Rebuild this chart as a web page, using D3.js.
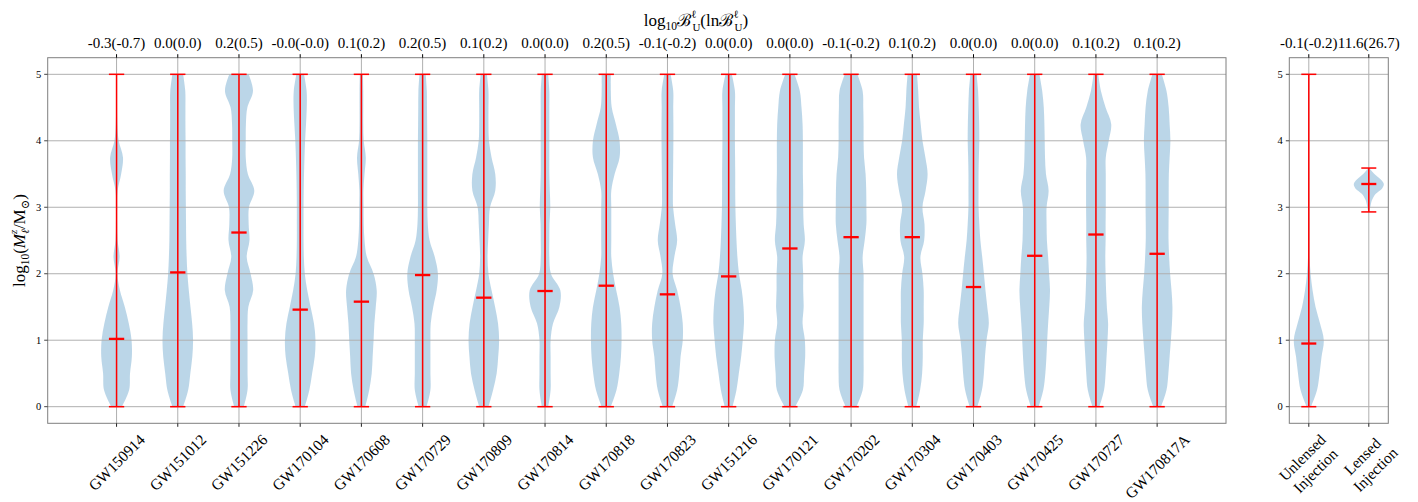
<!DOCTYPE html>
<html>
<head>
<meta charset="utf-8">
<script src="https://cdn.jsdelivr.net/npm/d3@7"></script>
<style>
  body { margin: 0; background: #fff; }
  text { font-family: "Liberation Serif", "DejaVu Serif", serif; fill: #000; }
</style>
</head>
<body>
<svg></svg>
<script>
// events (main panel) and the Bayes factor labels on top
var events = ["GW150914", "GW151012", "GW151226", "GW170104", "GW170608", "GW170729", "GW170809", "GW170814", "GW170818",
    "GW170823", "GW151216", "GW170121", "GW170202", "GW170304", "GW170403", "GW170425", "GW170727", "GW170817A"];
var bayesLabels = ["-0.3(-0.7)", "0.0(0.0)", "0.2(0.5)", "-0.0(-0.0)", "0.1(0.2)", "0.2(0.5)", "0.1(0.2)", "0.0(0.0)", "0.2(0.5)",
    "-0.1(-0.2)", "0.0(0.0)", "0.0(0.0)", "-0.1(-0.2)", "0.1(0.2)", "0.0(0.0)", "0.0(0.0)", "0.1(0.2)", "0.1(0.2)"];
var medians = [1.02, 2.02, 2.62, 1.46, 1.58, 1.98, 1.64, 1.74, 1.82, 1.69, 1.96, 2.38, 2.55, 2.55, 1.80, 2.27, 2.59, 2.30];
var mins = [0, 0, 0, 0, 0, 0, 0, 0, 0, 0, 0, 0, 0, 0, 0, 0, 0, 0];
var maxs = [5, 5, 5, 5, 5, 5, 5, 5, 5, 5, 5, 5, 5, 5, 5, 5, 5, 5];

// sample heights of the violin outlines, log10(M) values
var levels = [0, 0.25, 0.5, 0.75, 1, 1.25, 1.5, 1.75, 2, 2.25, 2.5, 2.75, 3, 3.25, 3.5, 3.75, 4, 4.25, 4.5, 4.75, 5];

// relative violin widths read at each level
var shapes = [
    [0.35, 0.82, 0.88, 1.0, 0.98, 0.8, 0.54, 0.22, 0.06, 0.2, 0.07, 0.04, 0.04, 0.07, 0.3, 0.42, 0.14, 0.05, 0.03, 0.02, 0.02],
    [0.35, 0.68, 0.82, 0.95, 1.0, 0.94, 0.83, 0.72, 0.63, 0.58, 0.55, 0.54, 0.53, 0.52, 0.52, 0.51, 0.51, 0.5, 0.5, 0.49, 0.35],
    [0.3, 0.53, 0.53, 0.53, 0.53, 0.53, 0.58, 0.88, 0.72, 0.48, 0.65, 0.6, 0.62, 0.95, 0.55, 0.42, 0.42, 0.43, 0.52, 0.87, 0.6],
    [0.3, 0.6, 0.78, 0.95, 1.0, 0.9, 0.68, 0.46, 0.3, 0.24, 0.22, 0.22, 0.22, 0.23, 0.25, 0.28, 0.32, 0.38, 0.43, 0.42, 0.25],
    [0.25, 0.5, 0.66, 0.72, 0.78, 0.83, 0.92, 0.98, 0.78, 0.35, 0.2, 0.15, 0.14, 0.13, 0.2, 0.28, 0.15, 0.12, 0.12, 0.12, 0.1],
    [0.25, 0.5, 0.5, 0.5, 0.5, 0.52, 0.68, 0.9, 0.98, 0.78, 0.45, 0.33, 0.3, 0.3, 0.3, 0.3, 0.3, 0.29, 0.28, 0.27, 0.2],
    [0.3, 0.6, 0.83, 0.93, 0.99, 0.92, 0.73, 0.5, 0.3, 0.24, 0.28, 0.33, 0.4, 0.74, 0.74, 0.5, 0.33, 0.3, 0.3, 0.3, 0.2],
    [0.2, 0.35, 0.35, 0.35, 0.35, 0.5, 0.9, 0.96, 0.37, 0.27, 0.27, 0.28, 0.33, 0.3, 0.27, 0.27, 0.27, 0.27, 0.27, 0.27, 0.2],
    [0.3, 0.67, 0.85, 0.96, 1.0, 0.98, 0.87, 0.65, 0.45, 0.33, 0.33, 0.33, 0.33, 0.33, 0.55, 0.87, 0.87, 0.63, 0.36, 0.3, 0.3],
    [0.3, 0.62, 0.76, 0.84, 0.98, 0.98, 0.84, 0.62, 0.33, 0.44, 0.62, 0.49, 0.36, 0.35, 0.36, 0.37, 0.38, 0.38, 0.37, 0.37, 0.2],
    [0.25, 0.5, 0.65, 0.8, 0.9, 0.98, 0.95, 0.84, 0.66, 0.56, 0.5, 0.46, 0.43, 0.42, 0.42, 0.41, 0.4, 0.4, 0.4, 0.4, 0.2],
    [0.35, 0.85, 0.93, 1.0, 0.98, 0.83, 0.9, 0.87, 0.87, 0.83, 0.98, 0.9, 0.87, 0.87, 0.85, 0.85, 0.85, 0.83, 0.76, 0.65, 0.3],
    [0.35, 0.74, 0.8, 0.8, 0.8, 0.8, 0.8, 0.8, 0.8, 0.74, 0.87, 0.98, 0.98, 0.97, 0.93, 0.83, 0.8, 0.8, 0.78, 0.74, 0.4],
    [0.25, 0.5, 0.63, 0.67, 0.67, 0.73, 0.73, 0.73, 0.65, 0.52, 0.76, 0.78, 0.65, 0.85, 0.98, 0.84, 0.65, 0.54, 0.43, 0.38, 0.3],
    [0.25, 0.55, 0.68, 0.75, 0.85, 1.0, 0.9, 0.78, 0.68, 0.57, 0.45, 0.38, 0.33, 0.33, 0.33, 0.35, 0.38, 0.37, 0.34, 0.3, 0.2],
    [0.25, 0.55, 0.68, 0.75, 0.8, 0.86, 0.93, 0.98, 0.92, 0.86, 0.78, 0.76, 0.76, 0.89, 0.72, 0.66, 0.64, 0.62, 0.58, 0.48, 0.3],
    [0.22, 0.52, 0.62, 0.68, 0.74, 0.78, 0.7, 0.65, 0.62, 0.6, 0.62, 0.62, 0.63, 0.63, 0.63, 0.63, 0.82, 0.98, 0.62, 0.32, 0.15],
    [0.25, 0.6, 0.72, 0.8, 0.88, 0.95, 0.98, 0.92, 0.83, 0.77, 0.73, 0.73, 0.74, 0.74, 0.75, 0.8, 0.85, 0.8, 0.74, 0.6, 0.3]
];

// injection panel
var injections = ["Unlensed\nInjection", "Lensed\nInjection"];
var injBayes = ["-0.1(-0.2)", "11.6(26.7)"];
var injMedians = [0.95, 3.35];
var injMins = [0, 2.93];
var injMaxs = [5, 3.59];
var lensedLevels = [2.93, 3.0, 3.1, 3.2, 3.28, 3.35, 3.42, 3.48, 3.53, 3.59];
var unlensedShape = [0.15, 0.55, 0.72, 0.85, 1.0, 0.75, 0.45, 0.25, 0.12, 0.05, 0.04, 0.04, 0.03, 0.02, 0.02, 0.01, 0.01, 0.01, 0.01, 0.01, 0.01];
var lensedShape = [0.02, 0.1, 0.2, 0.45, 0.88, 1.0, 0.78, 0.47, 0.25, 0.03];

var yTicks = [0, 1, 2, 3, 4, 5];

const svgWidth = 1418,
    svgHeight = 502;

var svg = d3.select('svg')
    .attr('width', svgWidth)
    .attr('height', svgHeight);

var y = d3.scaleLinear().domain([-0.25, 5.25]).range([423.3, 57.7]);
var xMain = d3.scaleLinear().domain([-0.125, 19.125]).range([47.7, 1226]);
var xInj = d3.scaleLinear().domain([0.675, 2.325]).range([1289.3, 1388.3]);

var gridColor = '#b0b0b0', spineColor = '#7f7f7f', red = '#ff0000';

function drawPanel(x, names, tops, shapeList, levelList, lo, hi, med) {
    var left = x.range()[0], right = x.range()[1];
    var top = y.range()[1], bottom = y.range()[0];
    var pos = names.map((d, i) => i + 1);
    var g = svg.append('g');

    // violin bodies
    pos.forEach((p, i) => {
        var lv = levelList[i];
        var k = 0.25 / d3.max(shapeList[i]);
        var area = d3.area()
            .curve(d3.curveCatmullRom.alpha(0.5))
            .y((d, j) => y(lv[j]))
            .x0(d => x(p - d * k))
            .x1(d => x(p + d * k));
        g.append('path')
            .datum(shapeList[i])
            .attr('d', area)
            .attr('fill', '#1f77b4')
            .attr('fill-opacity', 0.3);
    });

    // grid
    g.selectAll('.hgrid').data(yTicks).enter().append('line')
        .attr('x1', left).attr('x2', right)
        .attr('y1', d => y(d)).attr('y2', d => y(d))
        .attr('stroke', gridColor).attr('stroke-width', 1);
    g.selectAll('.vgrid').data(pos).enter().append('line')
        .attr('x1', d => x(d)).attr('x2', d => x(d))
        .attr('y1', top).attr('y2', bottom)
        .attr('stroke', gridColor).attr('stroke-width', 1);

    // extrema bars, caps and medians
    pos.forEach((p, i) => {
        g.append('line')
            .attr('x1', x(p)).attr('x2', x(p))
            .attr('y1', y(lo[i])).attr('y2', y(hi[i]))
            .attr('stroke', red).attr('stroke-width', 1.5);
        [lo[i], hi[i]].forEach(v => {
            g.append('line')
                .attr('x1', x(p - 0.125)).attr('x2', x(p + 0.125))
                .attr('y1', y(v)).attr('y2', y(v))
                .attr('stroke', red).attr('stroke-width', 1.5);
        });
        g.append('line')
            .attr('x1', x(p - 0.125)).attr('x2', x(p + 0.125))
            .attr('y1', y(med[i])).attr('y2', y(med[i]))
            .attr('stroke', red).attr('stroke-width', 2.3);
    });

    // frame
    g.append('rect')
        .attr('x', left).attr('y', top)
        .attr('width', right - left).attr('height', bottom - top)
        .attr('fill', 'none').attr('stroke', spineColor).attr('stroke-width', 1);

    // y ticks
    g.selectAll('.ytick').data(yTicks).enter().append('line')
        .attr('x1', left - 3.5).attr('x2', left)
        .attr('y1', d => y(d)).attr('y2', d => y(d))
        .attr('stroke', '#444').attr('stroke-width', 1);
    g.selectAll('.ylab').data(yTicks).enter().append('text')
        .attr('x', left - 6.5).attr('y', d => y(d))
        .attr('text-anchor', 'end').attr('dominant-baseline', 'central')
        .attr('font-size', 10.5)
        .text(d => d);

    // top and bottom x ticks
    pos.forEach(p => {
        g.append('line').attr('x1', x(p)).attr('x2', x(p))
            .attr('y1', top - 3.5).attr('y2', top)
            .attr('stroke', '#000').attr('stroke-width', 1);
        g.append('line').attr('x1', x(p)).attr('x2', x(p))
            .attr('y1', bottom).attr('y2', bottom + 3.5)
            .attr('stroke', '#222').attr('stroke-width', 1);
    });

    // Bayes factor labels on top
    g.selectAll('.toplab').data(tops).enter().append('text')
        .attr('x', (d, i) => x(i + 1)).attr('y', top - 10)
        .attr('text-anchor', 'middle')
        .attr('font-size', 15)
        .text(d => d);

    // rotated category labels (bbox centred on tick, top aligned)
    var fs = 15.5, lh = fs * 1.2;
    names.forEach((name, i) => {
        var lines = name.split('\n');
        var lg = g.append('g');
        var ts = lines.map((s, j) => lg.append('text')
            .attr('text-anchor', 'middle')
            .attr('dominant-baseline', 'central')
            .attr('y', (j - (lines.length - 1) / 2) * lh)
            .attr('font-size', fs)
            .text(s));
        var w = d3.max(ts, t => t.node().getComputedTextLength());
        var h = fs * (1 + 1.2 * (lines.length - 1));
        var half = (w + h) / (2 * Math.SQRT2);
        lg.attr('transform', 'translate(' + x(i + 1) + ',' + (bottom + 8 + half) + ') rotate(-45)');
    });
}

drawPanel(xMain, events, bayesLabels, shapes, events.map(() => levels), mins, maxs, medians);
drawPanel(xInj, injections, injBayes, [unlensedShape, lensedShape], [levels, lensedLevels], injMins, injMaxs, injMedians);

// title: superscript l stacked over subscript U
var title = svg.append('text')
    .attr('x', 696).attr('y', 26)
    .attr('text-anchor', 'middle')
    .attr('font-size', 17);
title.append('tspan').text('log');
title.append('tspan').attr('font-size', 11.5).attr('dy', 4).text('10');
title.append('tspan').attr('dy', -4).text('ℬ');
title.append('tspan').attr('font-size', 11).attr('dy', -8).text('ℓ');
title.append('tspan').attr('font-size', 11).attr('dx', -4).attr('dy', 12.5).text('U');
title.append('tspan').attr('dy', -4.5).text('(ln');
title.append('tspan').text('ℬ');
title.append('tspan').attr('font-size', 11).attr('dy', -8).text('ℓ');
title.append('tspan').attr('font-size', 11).attr('dx', -4).attr('dy', 12.5).text('U');
title.append('tspan').attr('dy', -4.5).text(')');

// y axis label
var ylab = svg.append('text')
    .attr('transform', 'translate(24.5,' + ((y.range()[0] + y.range()[1]) / 2) + ') rotate(-90)')
    .attr('text-anchor', 'middle')
    .attr('font-size', 17);
ylab.append('tspan').text('log');
ylab.append('tspan').attr('font-size', 11.5).attr('dy', 4).text('10');
ylab.append('tspan').attr('dy', -4).text('(');
ylab.append('tspan').attr('font-style', 'italic').text('M');
ylab.append('tspan').attr('font-size', 11).attr('font-style', 'italic').attr('dy', -8).text('z');
ylab.append('tspan').attr('font-size', 11).attr('font-style', 'italic').attr('dx', -4).attr('dy', 12.5).text('ℓ');
ylab.append('tspan').attr('dy', -4.5).text('/M');
ylab.append('tspan').attr('font-size', 11.5).attr('dy', 4).text('⊙');
ylab.append('tspan').attr('dy', -4).text(')');
</script>
</body>
</html>
